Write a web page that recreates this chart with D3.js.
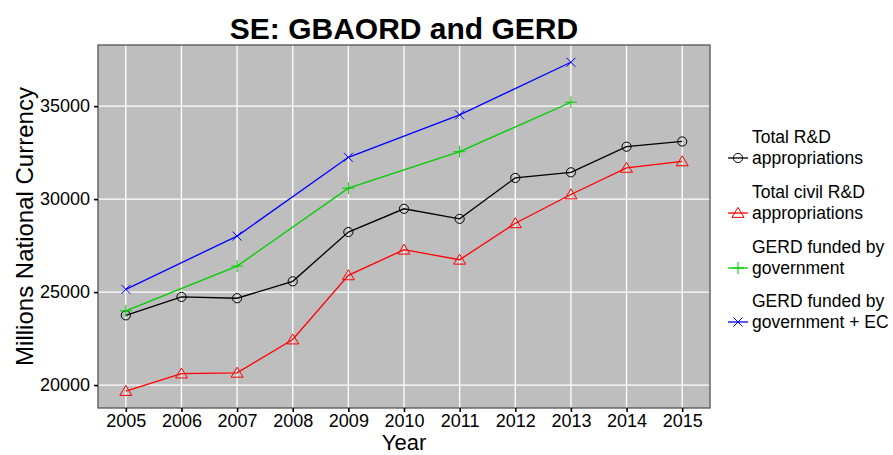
<!DOCTYPE html>
<html>
<head>
<meta charset="utf-8">
<script src="https://cdn.jsdelivr.net/npm/d3@7"></script>
<style>
  body { margin: 0; background: #fff; }
  svg { display: block; font-family: "Liberation Sans", Arial, sans-serif; }
</style>
</head>
<body>
<svg class="chart"></svg>
<script>
const size = { w: 893, h: 455 };
const margin = { top: 45, right: 183, bottom: 47, left: 98 };

// the data
const years = [2005, 2006, 2007, 2008, 2009, 2010, 2011, 2012, 2013, 2014, 2015];
const totalRD = [23750, 24740, 24670, 25580, 28230, 29480, 28940, 31140, 31440, 32820, 33100];
const civilRD = [19680, 20620, 20660, 22450, 25900, 27280, 26740, 28700, 30250, 31680, 32030];
const gerdYears = [2005, 2007, 2009, 2011, 2013];
const gerdGov = [23990, 26400, 30590, 32550, 35210];
const gerdGovEC = [25150, 28010, 32250, 34530, 37360];
const yTicks = [20000, 25000, 30000, 35000];

const series = [
  { label: ["Total R&D", "appropriations"], color: "#000000", shape: "circle", x: years, y: totalRD },
  { label: ["Total civil R&D", "appropriations"], color: "#ff0000", shape: "triangle", x: years, y: civilRD },
  { label: ["GERD funded by", "government"], color: "#00cd00", shape: "plus", x: gerdYears, y: gerdGov },
  { label: ["GERD funded by", "government + EC"], color: "#0000ff", shape: "cross", x: gerdYears, y: gerdGovEC },
];

const svg = d3.select("svg.chart").attr("width", size.w).attr("height", size.h);
const pw = size.w - margin.left - margin.right;
const ph = size.h - margin.top - margin.bottom;

const x = d3.scaleLinear().domain([2004.5, 2015.5]).range([margin.left, margin.left + pw]);
const y = d3.scaleLinear().domain([18767, 38288]).range([margin.top + ph, margin.top]);

// panel background
svg.append("rect")
  .attr("x", margin.left).attr("y", margin.top)
  .attr("width", pw).attr("height", ph)
  .attr("fill", "#bebebe");

// grid
const grid = svg.append("g").attr("stroke", "#ffffff").attr("stroke-width", 1.3);
grid.selectAll("line.v").data(years).join("line").attr("class", "v")
  .attr("x1", d => x(d)).attr("x2", d => x(d))
  .attr("y1", margin.top).attr("y2", margin.top + ph);
grid.selectAll("line.h").data(yTicks).join("line").attr("class", "h")
  .attr("x1", margin.left).attr("x2", margin.left + pw)
  .attr("y1", d => y(d)).attr("y2", d => y(d));

// shape drawing
function drawShape(g, shape, color) {
  if (shape === "circle") {
    g.append("circle").attr("r", 4.6).attr("fill", "none").attr("stroke", color).attr("stroke-width", 1);
  } else if (shape === "triangle") {
    g.append("path").attr("d", "M0,-5.6L6,4.4L-6,4.4Z").attr("fill", "none").attr("stroke", color).attr("stroke-width", 1);
  } else if (shape === "plus") {
    g.append("path").attr("d", "M-6,0H6M0,-6V6").attr("stroke", color).attr("stroke-width", 1);
  } else {
    g.append("path").attr("d", "M-4.5,-4.5L4.5,4.5M-4.5,4.5L4.5,-4.5").attr("stroke", color).attr("stroke-width", 1);
  }
}

const line = d3.line().x(d => x(d[0])).y(d => y(d[1]));

series.forEach(s => {
  const pts = s.x.map((xv, i) => [xv, s.y[i]]);
  svg.append("path").datum(pts)
    .attr("d", line)
    .attr("fill", "none")
    .attr("stroke", s.color)
    .attr("stroke-width", 1.3);
  svg.append("g").selectAll("g").data(pts).join("g")
    .attr("transform", d => `translate(${x(d[0])},${y(d[1])})`)
    .each(function () { drawShape(d3.select(this), s.shape, s.color); });
});

// panel border
svg.append("rect")
  .attr("x", margin.left).attr("y", margin.top)
  .attr("width", pw).attr("height", ph)
  .attr("fill", "none").attr("stroke", "#555555").attr("stroke-width", 1.3);

// axes
const xAxis = svg.append("g")
  .attr("transform", `translate(0,${margin.top + ph})`)
  .call(d3.axisBottom(x).tickValues(years).tickFormat(d3.format("d")).tickSize(4).tickPadding(2));
const yAxis = svg.append("g")
  .attr("transform", `translate(${margin.left},0)`)
  .call(d3.axisLeft(y).tickValues(yTicks).tickFormat(d3.format("d")).tickSize(4).tickPadding(4));
[xAxis, yAxis].forEach(a => {
  a.select(".domain").remove();
  a.selectAll(".tick line").attr("stroke", "#000").attr("stroke-width", 1.6);
  a.selectAll(".tick text").attr("fill", "#000").style("font-size", "18px")
    .style("font-family", "'Liberation Sans', Arial, sans-serif");
});

// titles
svg.append("text")
  .attr("x", margin.left + pw / 2).attr("y", 39)
  .attr("text-anchor", "middle")
  .style("font-size", "30px").style("font-weight", "bold")
  .text("SE: GBAORD and GERD");
svg.append("text")
  .attr("x", margin.left + pw / 2).attr("y", 450)
  .attr("text-anchor", "middle")
  .style("font-size", "22px")
  .text("Year");
svg.append("text")
  .attr("transform", `translate(33,${margin.top + ph / 2}) rotate(-90)`)
  .attr("text-anchor", "middle")
  .style("font-size", "24px")
  .text("Millions National Currency");

// legend
const legend = svg.append("g").attr("transform", "translate(728,0)");
const rowY = [158, 213, 268, 322];
series.forEach((s, i) => {
  const g = legend.append("g").attr("transform", `translate(0,${rowY[i]})`);
  g.append("line").attr("x1", 0).attr("x2", 20).attr("stroke", s.color).attr("stroke-width", 1.3);
  const key = g.append("g").attr("transform", "translate(10,0)");
  drawShape(key, s.shape, s.color);
  g.append("text").attr("x", 24).attr("y", -21.5 + 6).style("font-size", "17.5px").text(s.label[0]);
  g.append("text").attr("x", 24).attr("y", 6).style("font-size", "17.5px").text(s.label[1]);
});
</script>
</body>
</html>
